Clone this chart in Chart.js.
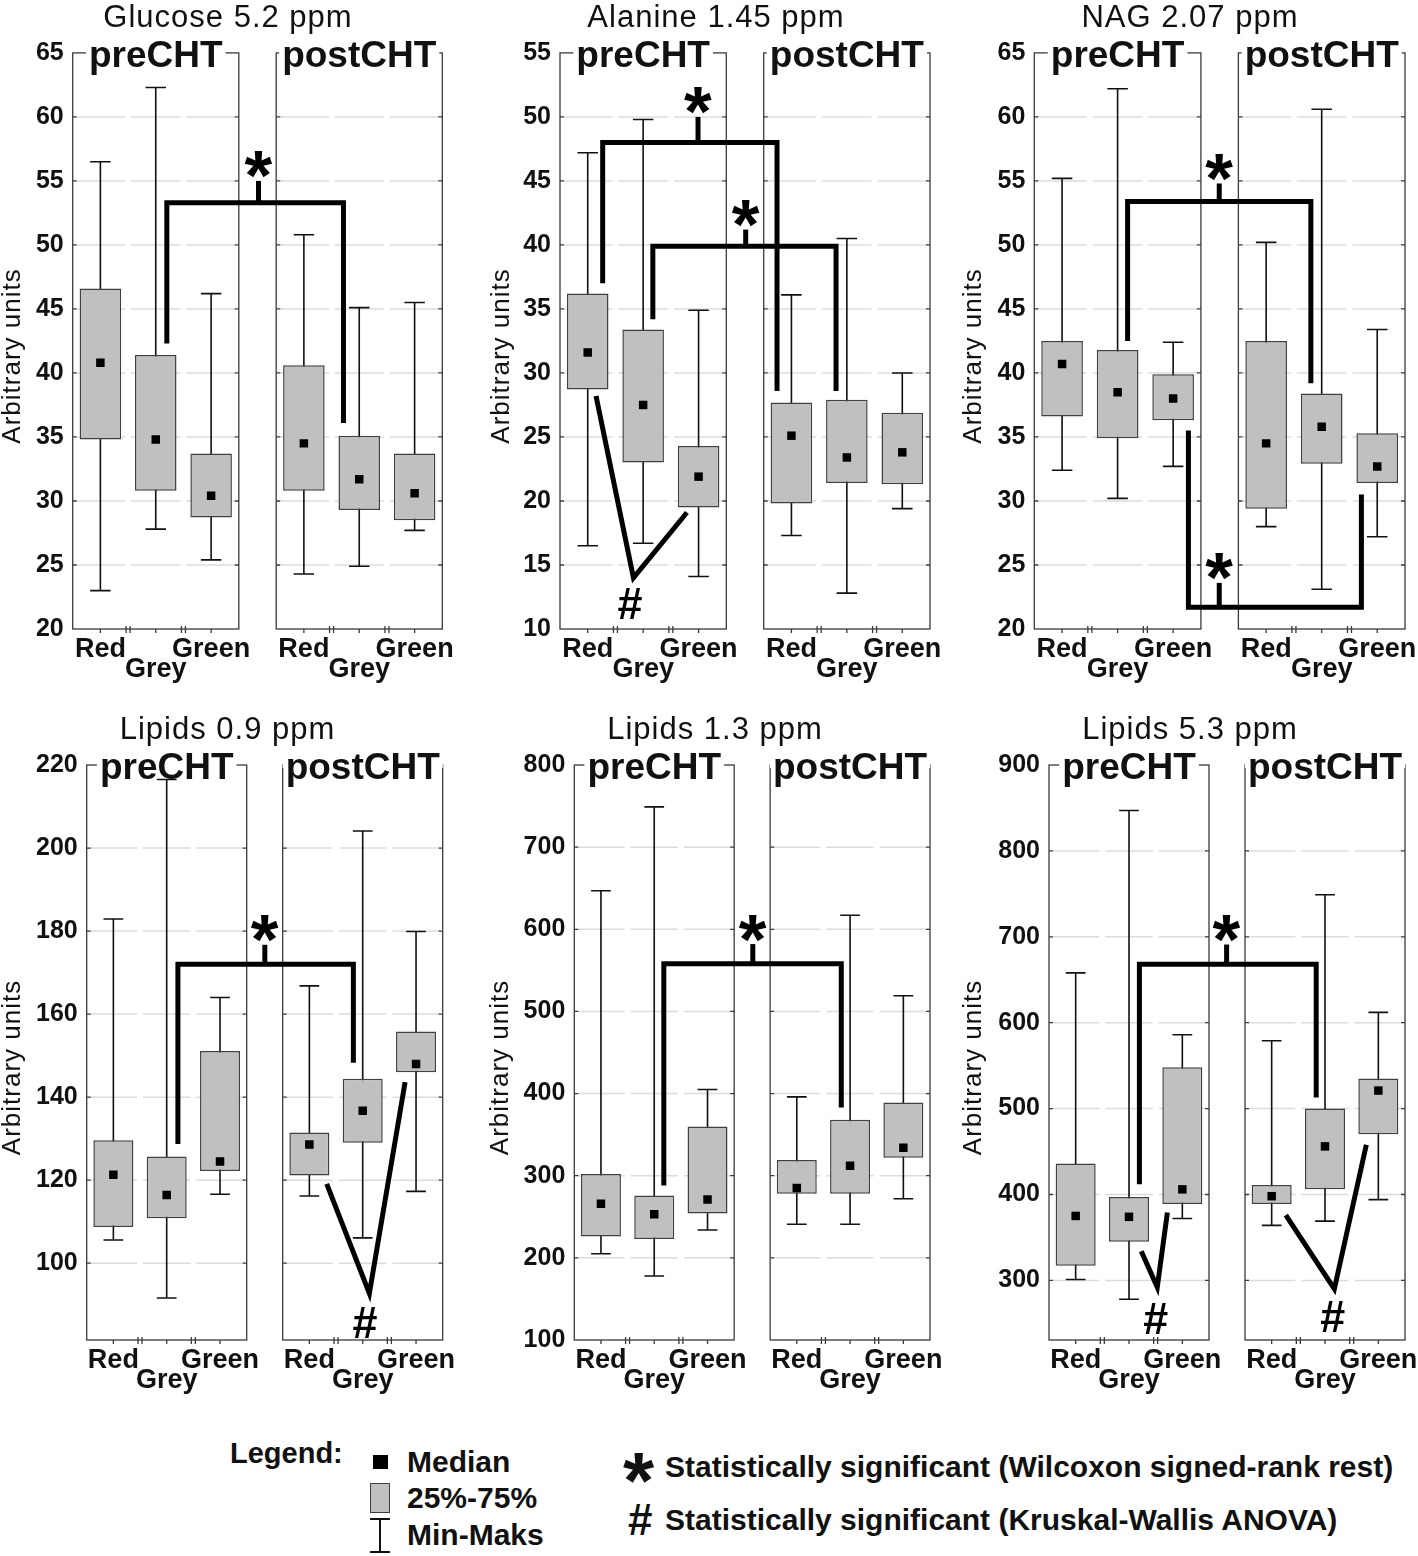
<!DOCTYPE html>
<html>
<head>
<meta charset="utf-8">
<title>preCHT / postCHT box plots</title>
<script src="https://cdn.jsdelivr.net/npm/chart.js@4.4.1/dist/chart.umd.min.js"></script>
<style>
  html, body { margin: 0; padding: 0; background: #fff; }
  body { position: relative; width: 1418px; height: 1556px; overflow: hidden;
         font-family: "Liberation Sans", Arial, sans-serif; color: #111; }
  canvas { position: absolute; }
  .lg { position: absolute; font-weight: bold; font-size: 30px; line-height: 30px; white-space: nowrap; }
  .sym { position: absolute; box-sizing: border-box; }
</style>
</head>
<body>

<!-- legend -->
<div class="lg" style="left:230px;top:1438px;font-size:29px">Legend:</div>
<div class="sym" style="left:373px;top:1455px;width:15px;height:14px;background:#000"></div>
<div class="lg" style="left:407px;top:1447px">Median</div>
<div class="sym" style="left:370px;top:1483px;width:20px;height:30px;background:#c0c0c0;border:1.5px solid #404040"></div>
<div class="lg" style="left:407px;top:1483px">25%-75%</div>
<div class="sym" style="left:370px;top:1518px;width:20px;height:35px;border-top:2px solid #111;border-bottom:2px solid #111"></div>
<div class="sym" style="left:379px;top:1518px;width:2px;height:35px;background:#111"></div>
<div class="lg" style="left:407px;top:1520px">Min-Maks</div>
<div class="lg" style="left:623px;top:1441px;font-size:80px;line-height:80px">*</div>
<div class="lg" style="left:665px;top:1452px">Statistically significant (Wilcoxon signed-rank rest)</div>
<div class="lg" style="left:628px;top:1498px;font-size:44px;line-height:44px">#</div>
<div class="lg" style="left:665px;top:1505px">Statistically significant (Kruskal-Wallis ANOVA)</div>

<script>
// --- DATA ---
const CATEGORIES = ['Red', 'Grey', 'Green'];
const PERIODS = ['preCHT', 'postCHT'];
const TITLES = ['Glucose 5.2 ppm', 'Alanine 1.45 ppm', 'NAG 2.07 ppm',
                'Lipids 0.9 ppm', 'Lipids 1.3 ppm', 'Lipids 5.3 ppm'];
const Y_TITLE = 'Arbitrary units';

// order in every series: preCHT Red, Grey, Green, postCHT Red, Grey, Green
const glucoseMax    = [56.5, 62.3, 46.2, 50.8, 45.1, 45.5];
const glucoseQ3     = [46.6, 41.4, 33.7, 40.6, 35.1, 33.7];
const glucoseMedian = [40.8, 34.8, 30.4, 34.5, 31.7, 30.6];
const glucoseQ1     = [34.8, 30.8, 28.7, 30.8, 29.3, 28.5];
const glucoseMin    = [23.0, 27.8, 25.4, 24.3, 24.9, 27.7];
const glucoseRange  = [20, 65];
const glucoseTicks  = [20, 25, 30, 35, 40, 45, 50, 55, 60, 65];

const alanineMax    = [47.2, 49.8, 34.9, 36.1, 40.5, 30.0];
const alanineQ3     = [36.2, 33.4, 24.3, 27.7, 27.9, 26.9];
const alanineMedian = [31.6, 27.5, 21.9, 25.1, 23.4, 23.8];
const alanineQ1     = [28.7, 23.0, 19.5, 19.8, 21.4, 21.3];
const alanineMin    = [16.5, 16.7, 14.1, 17.3, 12.8, 19.4];
const alanineRange  = [10, 55];
const alanineTicks  = [10, 15, 20, 25, 30, 35, 40, 45, 50, 55];

const nagMax    = [55.2, 62.2, 42.4, 50.2, 60.6, 43.4];
const nagQ3     = [42.5, 41.8, 39.9, 42.5, 38.4, 35.3];
const nagMedian = [40.7, 38.5, 38.0, 34.5, 35.8, 32.7];
const nagQ1     = [36.6, 34.9, 36.3, 29.4, 32.9, 31.4];
const nagMin    = [32.4, 30.2, 32.7, 28.0, 23.1, 27.2];
const nagRange  = [20, 65];
const nagTicks  = [20, 25, 30, 35, 40, 45, 50, 55, 60, 65];

const lip09Max    = [182.9, 216.5, 164.0, 166.8, 204.1, 179.9];
const lip09Q3     = [129.6, 125.7, 151.1, 131.5, 144.4, 155.8];
const lip09Median = [121.3, 116.4, 124.5, 128.6, 136.7, 148.0];
const lip09Q1     = [108.7, 110.8, 122.2, 121.1, 129.0, 146.0];
const lip09Min    = [105.6, 91.6, 116.6, 116.2, 106.1, 117.3];
const lip09Range  = [81.5, 220];
const lip09Ticks  = [100, 120, 140, 160, 180, 200, 220];

const lip13Max    = [647, 749, 405, 396, 617, 519];
const lip13Q3     = [302, 276, 360, 319, 368, 389];
const lip13Median = [266, 253, 271, 285, 312, 334];
const lip13Q1     = [226, 223, 254, 278, 278, 322];
const lip13Min    = [205, 178, 234, 241, 241, 272];
const lip13Range  = [100, 800];
const lip13Ticks  = [100, 200, 300, 400, 500, 600, 700, 800];

const lip53Max    = [658, 847, 586, 579, 749, 612];
const lip53Q3     = [436, 397, 548, 411, 500, 535];
const lip53Median = [375, 374, 406, 398, 456, 521];
const lip53Q1     = [317, 345, 389, 389, 406, 470];
const lip53Min    = [301, 278, 372, 364, 369, 394];
const lip53Range  = [230.6, 900];
const lip53Ticks  = [300, 400, 500, 600, 700, 800, 900];

// Wilcoxon brackets: [xLeft, xRight, yBar, yLeftEnd, yRightEnd, xTick, yTickTop]
const glucoseStars = [[1.70, 4.89, 53.3, 42.3, 36.1, 3.355, 55.0]];
const alanineStars = [[0.77, 3.915, 48.0, 37.0, 28.6, 2.49, 50.0],
                      [1.675, 4.98, 39.9, 34.2, 28.6, 3.35, 41.2]];
const nagStars     = [[1.68, 4.98, 53.4, 42.5, 39.2, 3.33, 54.8],
                      [2.775, 5.89, 21.7, 35.5, 30.5, 3.33, 23.6]];
const lip09Stars   = [[1.71, 5.0, 172, 128.7, 148.3, 3.34, 176.7]];
const lip13Stars   = [[1.68, 5.01, 558, 288, 383, 3.35, 582]];
const lip53Stars   = [[1.695, 5.01, 668, 412, 513, 3.33, 691]];

// Kruskal-Wallis marks: [x1, y1, x2, y2, x3, y3, xHash, yHash]
const glucoseHashes = [];
const alanineHashes = [[0.65, 28.2, 1.325, 14.0, 2.29, 19.1, 1.265, 12.0]];
const nagHashes     = [];
const lip09Hashes   = [[4.5, 119.1, 5.3, 92.7, 5.97, 143.6, 5.22, 85.8]];
const lip13Hashes   = [];
const lip53Hashes   = [[1.73, 334, 2.03, 292, 2.22, 379, 2.0, 256],
                       [4.44, 376, 5.35, 290, 5.95, 458, 5.32, 258]];

// --- LAYOUT (page pixels) ---
const GAP = 0.675;           // gap between preCHT and postCHT frames, in category units
const X_POS = [0.5, 1.5, 2.5, 3.5 + GAP, 4.5 + GAP, 5.5 + GAP];
const LAYOUT = [
  { left: 0,   top: 0,   w: 468, h: 700, axisX: 72.7,   plotTop: 52.9, plotBottom: 629,  plotRight: 442.3, titleX: 228,   yTitleX: 12.5 },
  { left: 470, top: 0,   w: 474, h: 700, axisX: 560,    plotTop: 52.9, plotBottom: 629,  plotRight: 930,   titleX: 716,   yTitleX: 501.5 },
  { left: 944, top: 0,   w: 474, h: 700, axisX: 1034.3, plotTop: 52.9, plotBottom: 629,  plotRight: 1405,  titleX: 1190,  yTitleX: 973.5 },
  { left: 0,   top: 700, w: 468, h: 700, axisX: 86.7,   plotTop: 765,  plotBottom: 1340, plotRight: 442.7, titleX: 227.5, yTitleX: 12.5 },
  { left: 470, top: 700, w: 474, h: 700, axisX: 574.3,  plotTop: 765,  plotBottom: 1340, plotRight: 930,   titleX: 715,   yTitleX: 501 },
  { left: 944, top: 700, w: 474, h: 700, axisX: 1049,   plotTop: 765,  plotBottom: 1340, plotRight: 1405,  titleX: 1190,  yTitleX: 974 }
];
const FONT = '"Liberation Sans", Arial, sans-serif';
const INK = '#111';

const PANELS = [
  { min: glucoseMin, q1: glucoseQ1, med: glucoseMedian, q3: glucoseQ3, max: glucoseMax, range: glucoseRange, ticks: glucoseTicks, stars: glucoseStars, hashes: glucoseHashes },
  { min: alanineMin, q1: alanineQ1, med: alanineMedian, q3: alanineQ3, max: alanineMax, range: alanineRange, ticks: alanineTicks, stars: alanineStars, hashes: alanineHashes },
  { min: nagMin, q1: nagQ1, med: nagMedian, q3: nagQ3, max: nagMax, range: nagRange, ticks: nagTicks, stars: nagStars, hashes: nagHashes },
  { min: lip09Min, q1: lip09Q1, med: lip09Median, q3: lip09Q3, max: lip09Max, range: lip09Range, ticks: lip09Ticks, stars: lip09Stars, hashes: lip09Hashes },
  { min: lip13Min, q1: lip13Q1, med: lip13Median, q3: lip13Q3, max: lip13Max, range: lip13Range, ticks: lip13Ticks, stars: lip13Stars, hashes: lip13Hashes },
  { min: lip53Min, q1: lip53Q1, med: lip53Median, q3: lip53Q3, max: lip53Max, range: lip53Range, ticks: lip53Ticks, stars: lip53Stars, hashes: lip53Hashes }
];

// --- HELPERS ---
// draw one glyph with its ink box centred on (cx, cy) and scaled to a given ink height
function drawGlyph(ctx, ch, cx, cy, inkHeight) {
  ctx.font = 'bold 100px ' + FONT;
  let m = ctx.measureText(ch);
  const size = 100 * inkHeight / (m.actualBoundingBoxAscent + m.actualBoundingBoxDescent);
  ctx.font = 'bold ' + size + 'px ' + FONT;
  m = ctx.measureText(ch);
  ctx.textAlign = 'left';
  ctx.textBaseline = 'alphabetic';
  const x = cx - (m.actualBoundingBoxRight - m.actualBoundingBoxLeft) / 2;
  const y = cy + (m.actualBoundingBoxAscent - m.actualBoundingBoxDescent) / 2;
  ctx.fillText(ch, x, y);
}

function makeFigurePlugin(p, L, title) {
  return {
    id: 'boxFigure',
    beforeDatasetsDraw(chart) {
      const { ctx, scales: { x, y } } = chart;
      ctx.save();
      // segmented horizontal grid lines, broken at every category boundary
      ctx.strokeStyle = '#dcdcdc';
      ctx.lineWidth = 1.5;
      p.ticks.forEach(v => {
        if (v <= y.min || v >= y.max) return;
        const py = y.getPixelForValue(v);
        [0, 3 + GAP].forEach(start => {
          for (let c = 0; c < 3; c++) {
            ctx.beginPath();
            ctx.moveTo(x.getPixelForValue(start + c) + 3, py);
            ctx.lineTo(x.getPixelForValue(start + c + 1) - 3, py);
            ctx.stroke();
          }
        });
      });
      // min-max whiskers (boxes are drawn over them)
      ctx.strokeStyle = INK;
      ctx.lineWidth = 1.6;
      X_POS.forEach((xv, i) => {
        const px = x.getPixelForValue(xv);
        const cap = x.getPixelForValue(xv + 0.185) - px;
        const top = y.getPixelForValue(p.max[i]);
        const bot = y.getPixelForValue(p.min[i]);
        ctx.beginPath();
        ctx.moveTo(px, top); ctx.lineTo(px, bot);
        ctx.moveTo(px - cap, top); ctx.lineTo(px + cap, top);
        ctx.moveTo(px - cap, bot); ctx.lineTo(px + cap, bot);
        ctx.stroke();
      });
      ctx.restore();
    },
    afterDatasetsDraw(chart) {
      const { ctx, chartArea: a, scales: { x, y } } = chart;
      const X = v => x.getPixelForValue(v);
      const Y = v => y.getPixelForValue(v);
      ctx.save();

      // frames with inner ticks
      ctx.strokeStyle = '#3a3a3a';
      ctx.lineWidth = 1.3;
      [0, 3 + GAP].forEach(start => {
        const l = X(start), r = X(start + 3);
        ctx.strokeRect(l, a.top, r - l, a.bottom - a.top);
        ctx.beginPath();
        p.ticks.forEach(v => {
          if (v <= y.min || v >= y.max) return;
          const py = Y(v);
          ctx.moveTo(l, py); ctx.lineTo(l + 4, py);
          ctx.moveTo(r, py); ctx.lineTo(r - 4, py);
        });
        for (let c = 0; c < 3; c++) {
          const cx = X(start + c + 0.5);
          ctx.moveTo(cx, a.bottom); ctx.lineTo(cx, a.bottom + 4);
          if (c > 0) {
            const bx = X(start + c);
            ctx.moveTo(bx - 2, a.bottom - 3); ctx.lineTo(bx - 2, a.bottom + 4);
            ctx.moveTo(bx + 2, a.bottom - 3); ctx.lineTo(bx + 2, a.bottom + 4);
          }
        }
        ctx.stroke();
      });

      // significance brackets
      ctx.strokeStyle = '#000';
      ctx.fillStyle = '#000';
      ctx.lineWidth = 5;
      ctx.lineJoin = 'miter';
      ctx.lineCap = 'butt';
      p.stars.forEach(([xl, xr, yb, yl, yr, xt, yt]) => {
        ctx.beginPath();
        ctx.moveTo(X(xl), Y(yl));
        ctx.lineTo(X(xl), Y(yb));
        ctx.lineTo(X(xr), Y(yb));
        ctx.lineTo(X(xr), Y(yr));
        ctx.stroke();
        ctx.beginPath();
        ctx.moveTo(X(xt), Y(yb));
        ctx.lineTo(X(xt), Y(yt));
        ctx.stroke();
        drawGlyph(ctx, '*', X(xt), Y(yt) - 16, 27);
      });
      p.hashes.forEach(([x1, y1, x2, y2, x3, y3, hx, hy]) => {
        ctx.beginPath();
        ctx.moveTo(X(x1), Y(y1));
        ctx.lineTo(X(x2), Y(y2));
        ctx.lineTo(X(x3), Y(y3));
        ctx.stroke();
        drawGlyph(ctx, '#', X(hx), Y(hy), 31);
      });

      // preCHT / postCHT on the top edge of each frame
      ctx.fillStyle = INK;
      ctx.font = 'bold 37px ' + FONT;
      ctx.textAlign = 'center';
      ctx.textBaseline = 'alphabetic';
      PERIODS.forEach((name, k) => {
        const cx = X(k * (3 + GAP) + 1.5);
        const w = ctx.measureText(name).width;
        ctx.fillStyle = '#fff';
        ctx.fillRect(cx - w / 2 - 3, a.top - 3, w + 6, 6);
        ctx.fillStyle = INK;
        ctx.fillText(name, cx, a.top + 14);
      });

      // staggered category labels
      ctx.font = 'bold 27px ' + FONT;
      X_POS.forEach((xv, i) => {
        const c = i % 3;
        ctx.fillText(CATEGORIES[c], X(xv), a.bottom + (c === 1 ? 48 : 28));
      });

      // panel title
      ctx.font = '31px ' + FONT;
      ctx.letterSpacing = '1px';
      ctx.fillText(title, L.titleX - L.left, a.top - 26);

      // y axis title
      ctx.font = '26px ' + FONT;
      ctx.translate(L.yTitleX - L.left + 7, (a.top + a.bottom) / 2 + 15);
      ctx.rotate(-Math.PI / 2);
      ctx.fillText(Y_TITLE, 0, 0);
      ctx.letterSpacing = '0px';
      ctx.restore();
    }
  };
}

// --- CHARTS ---
PANELS.forEach((p, i) => {
  const L = LAYOUT[i];
  const cv = document.createElement('canvas');
  cv.width = L.w;
  cv.height = L.h;
  cv.style.left = L.left + 'px';
  cv.style.top = L.top + 'px';
  cv.style.width = L.w + 'px';
  cv.style.height = L.h + 'px';
  document.body.appendChild(cv);

  new Chart(cv, {
    type: 'bar',
    data: {
      datasets: [
        {
          type: 'scatter',
          order: 1,
          data: X_POS.map((xv, k) => ({ x: xv, y: p.med[k] })),
          pointStyle: 'rect',
          pointRadius: 6,
          borderWidth: 0,
          backgroundColor: '#000'
        },
        {
          type: 'bar',
          order: 2,
          data: X_POS.map((xv, k) => ({ x: xv, y: [p.q1[k], p.q3[k]] })),
          backgroundColor: '#c0c0c0',
          borderColor: '#404040',
          borderWidth: 1.5,
          borderSkipped: false,
          barPercentage: 0.75,
          categoryPercentage: 1,
          grouped: false
        }
      ]
    },
    options: {
      responsive: false,
      animation: false,
      events: [],
      layout: {
        padding: {
          left: 0,
          top: L.plotTop - L.top,
          bottom: L.top + L.h - L.plotBottom,
          right: L.left + L.w - L.plotRight
        }
      },
      plugins: { legend: { display: false }, tooltip: { enabled: false } },
      scales: {
        x: {
          type: 'linear',
          min: 0,
          max: 6 + GAP,
          offset: false,
          display: false,
          afterBuildTicks: s => { s.ticks = X_POS.map(v => ({ value: v })); }
        },
        y: {
          min: p.range[0],
          max: p.range[1],
          afterBuildTicks: s => { s.ticks = p.ticks.map(v => ({ value: v })); },
          afterFit: s => { s.width = L.axisX - L.left; },
          grid: { display: false, drawTicks: false },
          border: { display: false },
          ticks: {
            color: INK,
            padding: 9,
            font: { family: FONT, size: 25, weight: 'bold' }
          }
        }
      }
    },
    plugins: [makeFigurePlugin(p, L, TITLES[i])]
  });
});
</script>
</body>
</html>
